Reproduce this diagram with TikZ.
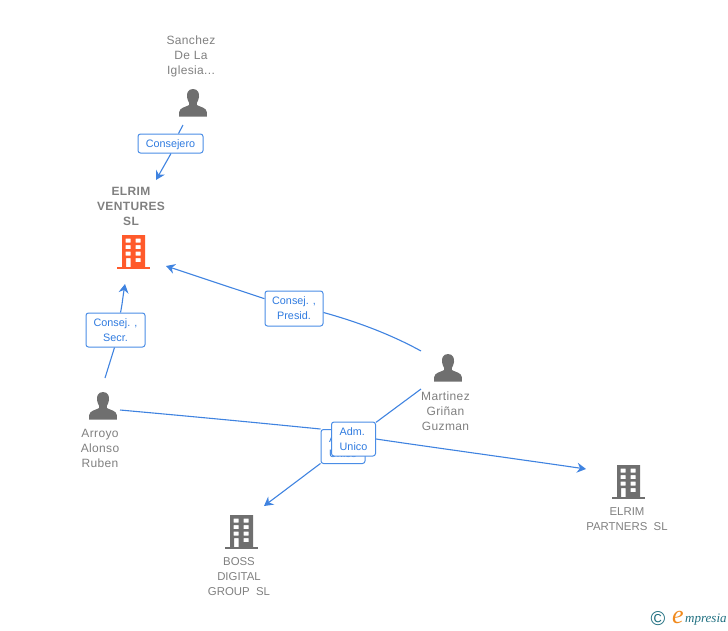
\documentclass[tikz,border=0pt]{standalone}
\usepackage{fontspec}
\setmainfont{Liberation Sans}
\newfontfamily\logofont{Liberation Serif}
\newfontfamily\spacedfont[LetterSpace=3]{Liberation Sans}
\usetikzlibrary{arrows.meta}
\definecolor{linkblue}{HTML}{3F83E0}
\definecolor{boxblue}{HTML}{4A8DE6}
\definecolor{labeltext}{HTML}{2F7BE0}
\definecolor{icongray}{HTML}{6F6F6F}
\definecolor{txtgray}{HTML}{808080}
\definecolor{firmred}{HTML}{FF5A2B}
\definecolor{logoteal}{HTML}{1F6F80}
\definecolor{logoorange}{HTML}{F08A1E}
\tikzset{
  x=1pt,y=-1pt,
  link/.style={draw=linkblue,line width=1.1pt},
  arrowlink/.style={link,-{Stealth[length=9pt,width=10pt,inset=3pt]}},
  lbl/.style={draw=boxblue,line width=1pt,rounded corners=2.5pt,fill=white,text=labeltext,
    font=\fontsize{10.8}{15}\selectfont,align=center,inner sep=0pt,minimum height=34pt,
    execute at begin node=\rule{0pt}{10pt}},
  nametext/.style={text=txtgray,font=\spacedfont\fontsize{12}{15}\selectfont,align=center,inner sep=0pt},
  anchorbox/.style={inner sep=0pt,minimum width=30pt,minimum height=30pt},
  pics/person/.style={code={
    \fill[icongray] (0,-14) .. controls (-5,-14) and (-6.5,-9.5) .. (-6,-6)
      .. controls (-5.8,-3) and (-4.5,-1.5) .. (-3.8,0) -- (-3.8,2)
      .. controls (-7,4) and (-13.5,4.5) .. (-13.8,9) -- (-13.8,13.5) -- (13.8,13.5) -- (13.8,9)
      .. controls (13.5,4.5) and (7,4) .. (3.8,2) -- (3.8,0)
      .. controls (4.5,-1.5) and (5.8,-3) .. (6,-6)
      .. controls (6.5,-9.5) and (5,-14) .. (0,-14) -- cycle;
  }},
  pics/firm/.style={code={
    \fill[#1,even odd rule] (-11,-17) rectangle (12,15)
      (-7.5,-13.5) rectangle (-2.5,-9.5) (2.5,-13.5) rectangle (7.5,-9.5)
      (-7.5,-7) rectangle (-2.5,-3) (2.5,-7) rectangle (7.5,-3)
      (-7.5,-0.5) rectangle (-2.5,3.5) (2.5,-0.5) rectangle (7.5,3.5)
      (-7,6) rectangle (-2.5,15) (2.5,6) rectangle (7.5,10);
    \fill[#1] (-16,14.5) rectangle (17,17);
  }},
}
\begin{document}
\begin{tikzpicture}
\useasboundingbox (0,0) rectangle (728,630);
% icons
\pic at (193,103) {person};
\pic at (103,406) {person};
\pic at (448,368) {person};
\pic at (133,252) {firm=firmred};
\pic at (628,482) {firm=icongray};
\pic at (241,532) {firm=icongray};
\node[anchorbox] (sanchez) at (193,103) {};
\node[anchorbox] (arroyo) at (103,406) {};
\node[anchorbox] (martinez) at (448,368) {};
\node[anchorbox] (ventures) at (133,252) {};
\node[anchorbox] (partners) at (628,482) {};
\node[anchorbox] (boss) at (241,532) {};
% names
\node[nametext] (nSanchez) at (191,56) {Sanchez\\De La\\Iglesia...};
\node[nametext,font=\spacedfont\fontsize{12}{15}\selectfont\bfseries] (nVentures) at (131,206) {ELRIM\\VENTURES\\SL};
\node[nametext] (nArroyo) at (100,448) {Arroyo\\Alonso\\Ruben};
\node[nametext] (nMartinez) at (445.5,411) {Martinez\\Griñan\\Guzman};
\node[nametext,font=\fontsize{11.4}{15}\selectfont] (nPartners) at (627,519.5) {ELRIM\\PARTNERS\ \ SL};
\node[nametext,font=\fontsize{11.4}{15}\selectfont] (nBoss) at (239,577) {BOSS\\DIGITAL\\GROUP\ \ SL};
% connector end points
\coordinate (c1s) at (183,125);
\coordinate (c1e) at (156,180);
\coordinate (c2s) at (105,378);
\coordinate (c2e) at (125,284);
\coordinate (c3s) at (421,351);
\coordinate (c3e) at (166,266);
\coordinate (c4s) at (120,410);
\coordinate (c4e) at (586,469);
\coordinate (c5s) at (421,389);
\coordinate (c5e) at (264,506);
% labels
\node[lbl,minimum width=44pt,align=left] (lAdmB) at (343,446.5) {Adm.\\Unico};
\node[lbl,minimum width=44pt,align=left] (lAdmF) at (353.5,439) {Adm.\\Unico};
\node[lbl,minimum width=65pt,minimum height=19pt] (lCons) at (170.5,143.5) {Consejero};
\node[lbl,minimum width=59pt] (lSecr) at (115.5,330) {Consej. ,\\Secr.};
\node[lbl,minimum width=58pt,minimum height=35pt] (lPres) at (294,308.5) {Consej. ,\\Presid.};
% connectors
\draw[link] (c4s) .. controls (220,419) and (280,425) .. (lAdmB.north west);
\draw[arrowlink] (lAdmF.east) .. controls (430,447) and (510,458) .. (c4e);
\draw[arrowlink] (lAdmB) -- (c5e);
\draw[link] (c5s) -- (lAdmF);
\draw[link] (c1s) -- ([xshift=8pt]lCons.north);
\draw[arrowlink] ([xshift=0.5pt]lCons.south) -- (c1e);
\draw[link] (c2s) -- ([xshift=-1pt]lSecr.south);
\draw[arrowlink] ([xshift=5pt]lSecr.north) .. controls (122,306) and (123,296) .. (c2e);
\draw[link] (c3s) .. controls (392,335) and (358,322) .. ([yshift=-4pt]lPres.east);
\draw[arrowlink] (lPres) -- (c3e);
% logo
\node[inner sep=0pt,text=logoteal,font=\fontsize{20}{20}\selectfont] (logoC) at (658,619) {\textcopyright};
\node[inner sep=0pt,text=logoorange,font=\logofont\itshape\fontsize{26}{26}\selectfont] (logoE) at (678,617) {e};
\node[inner sep=0pt,text=logoteal,font=\logofont\itshape\fontsize{13}{13}\selectfont,anchor=west] (logoT) at (685,620) {mpresia};
\end{tikzpicture}
\end{document}
